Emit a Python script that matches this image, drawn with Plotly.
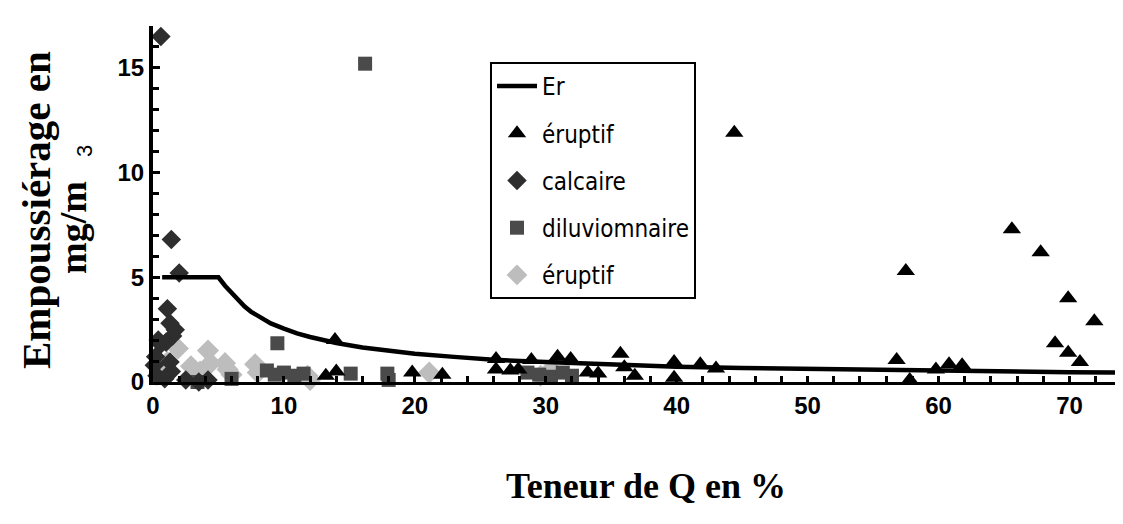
import plotly.graph_objects as go

# ---- data ----
er_x = [0.7, 5, 5.5, 6, 6.5, 7, 7.5, 8, 9, 10, 11, 12, 13, 14, 16, 18, 20, 23, 26, 30,
        35, 40, 45, 50, 55, 60, 65, 70, 74.7]
er_y = [5, 5, 4.6, 4.25, 3.9, 3.6, 3.35, 3.15, 2.8, 2.55, 2.32, 2.15, 2.0, 1.86, 1.65, 1.48, 1.35, 1.2, 1.06, 0.95,
        0.82, 0.73, 0.67, 0.62, 0.57, 0.53, 0.5, 0.47, 0.45]

eruptif_x = [13.2, 13.9, 14.0, 19.8, 22.1, 26.2, 26.2, 27.3, 27.9, 28.9, 30.9, 31.9, 33.2, 34.0,
             35.7, 36.0, 36.8, 39.8, 39.8, 41.8, 43.0, 44.4, 56.8, 57.5, 57.8, 59.8, 60.8, 61.8,
             65.6, 67.8, 68.9, 69.9, 69.9, 70.8, 71.9]
eruptif_y = [0.3, 2.0, 0.5, 0.45, 0.35, 1.1, 0.6, 0.55, 0.6, 1.05, 1.2, 1.1, 0.45, 0.4,
             1.35, 0.7, 0.3, 0.95, 0.2, 0.85, 0.65, 11.9, 1.05, 5.3, 0.1, 0.6, 0.85, 0.8,
             7.3, 6.2, 1.85, 4.0, 1.4, 0.95, 2.9]

calcaire_x = [0.6, 1.4, 2.0, 1.1, 1.7, 1.3, 1.5, 1.0, 0.6, 0.4, 0.2, 0.1, 0.3, 0.9, 1.4, 1.3, 2.5, 3.5, 4.2]
calcaire_y = [16.5, 6.8, 5.2, 3.5, 2.5, 2.8, 2.2, 1.9, 1.8, 2.0, 1.2, 0.8, 0.3, 0.15, 0.5, 0.95, 0.1, 0.0, 0.1]

diluv_x = [16.2, 9.5, 8.7, 9.3, 10.0, 10.8, 11.5, 6.0, 3.4, 15.1, 17.9, 18.0, 28.6, 29.5, 30.4, 31.3, 32.0]
diluv_y = [15.2, 1.85, 0.55, 0.35, 0.45, 0.3, 0.4, 0.15, 0.0, 0.4, 0.4, 0.1, 0.45, 0.35, 0.25, 0.45, 0.3]

erudif_x = [0.75, 1.1, 1.9, 2.9, 4.2, 4.4, 5.5, 5.7, 3.6, 6.0, 7.8, 8.0, 11.8, 12.0, 21.1, 29.6, 30.4]
erudif_y = [0.5, 0.95, 1.6, 0.75, 1.5, 0.9, 0.9, 0.6, 0.5, 0.35, 0.85, 0.45, 0.3, 0.1, 0.45, 0.3, 0.6]

x_ticks = [0, 10, 20, 30, 40, 50, 60, 70]
y_ticks = [0, 5, 10, 15]

# ---- layout constants (pixels) ----
W, H = 1123, 524
L, R, T, B = 145, 0, 18, 150
PW, PH = W - L - R, H - T - B

def px_x(p):
    return (p - L) / PW

def px_y(p):
    return (H - B - p) / PH

legend_font = dict(family="DejaVu Sans Condensed, DejaVu Sans, sans-serif", size=24, color="black")
tick_font = dict(family="Liberation Sans, Arial, sans-serif", size=24, color="black", weight="bold")
serif = "Liberation Serif, Times New Roman, serif"

fig = go.Figure()

fig.add_trace(go.Scatter(x=erudif_x, y=erudif_y, mode="markers", name="éruptif",
                         marker=dict(symbol="diamond", size=17, color="#bdbdbd"),
                         cliponaxis=False, legendrank=5, legendgroup="e2"))
fig.add_trace(go.Scatter(x=diluv_x, y=diluv_y, mode="markers", name="diluviomnaire",
                         marker=dict(symbol="square", size=14, color="#4a4a4a"),
                         cliponaxis=False, legendrank=4, legendgroup="d"))
fig.add_trace(go.Scatter(x=calcaire_x, y=calcaire_y, mode="markers", name="calcaire",
                         marker=dict(symbol="diamond", size=15, color="#2e2e2e"),
                         cliponaxis=False, legendrank=3, legendgroup="c"))
fig.add_trace(go.Scatter(x=eruptif_x, y=eruptif_y, mode="markers", name="éruptif",
                         marker=dict(symbol="triangle-up", size=16, color="black"),
                         cliponaxis=False, legendrank=2, legendgroup="e1"))
fig.add_trace(go.Scatter(x=er_x, y=er_y, mode="lines", name="Er",
                         line=dict(color="black", width=4.5),
                         cliponaxis=False, legendrank=1, legendgroup="er"))

fig.update_layout(
    width=W, height=H,
    margin=dict(l=L, r=R, t=T, b=B),
    paper_bgcolor="white", plot_bgcolor="white",
    showlegend=True,
    legend=dict(x=px_x(482), y=px_y(54), xanchor="left", yanchor="top",
                bordercolor="black", borderwidth=2, bgcolor="white",
                font=legend_font, tracegroupgap=13, itemwidth=40),
    xaxis=dict(range=[0, 74.7], showgrid=False, zeroline=False,
               showline=True, linecolor="black", linewidth=3,
               tickmode="array", tickvals=x_ticks, ticktext=[str(v) for v in x_ticks],
               ticks="inside", ticklen=6, tickwidth=3, tickcolor="black",
               minor=dict(dtick=2, ticks="inside", ticklen=6, tickwidth=3, tickcolor="black"),
               tickfont=tick_font),
    yaxis=dict(range=[0, 17], showgrid=False, zeroline=False,
               showline=True, linecolor="black", linewidth=4,
               tickmode="array", tickvals=y_ticks, ticktext=[str(v) for v in y_ticks],
               ticks="inside", ticklen=7, tickwidth=3, tickcolor="black",
               minor=dict(dtick=1, ticks="inside", ticklen=6, tickwidth=3, tickcolor="black"),
               tickfont=tick_font),
)

ann = [
    dict(text="Empoussiérage en", x=px_x(28), y=px_y(202), textangle=-90,
         font=dict(family=serif, size=41, color="black", weight="bold")),
    dict(text="mg/m", x=px_x(65), y=px_y(220), textangle=-90,
         font=dict(family=serif, size=38, color="black", weight="bold")),
    dict(text="3", x=px_x(76), y=px_y(143), textangle=-90,
         font=dict(family="Liberation Sans, Arial, sans-serif", size=22, color="black")),
    dict(text="Teneur de Q en %", x=px_x(638), y=px_y(478),
         font=dict(family=serif, size=36, color="black", weight="bold")),
]
for a in ann:
    fig.add_annotation(xref="paper", yref="paper", showarrow=False,
                       xanchor="center", yanchor="middle", **a)

fig.write_html("out.html")
